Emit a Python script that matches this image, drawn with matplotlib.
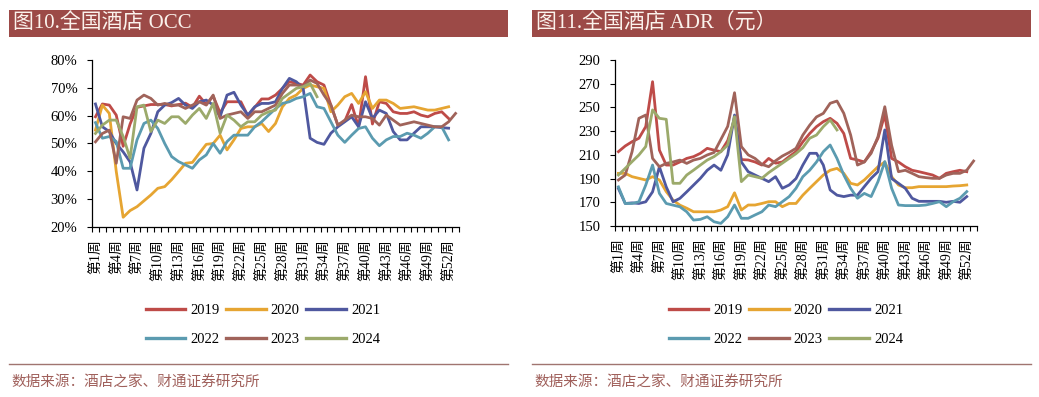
import matplotlib
matplotlib.use('Agg')
import matplotlib.pyplot as plt
import numpy as np
from matplotlib.patches import Rectangle
from matplotlib.lines import Line2D

plt.rcParams['font.family'] = ['Liberation Serif', 'Noto Sans CJK SC']

weeks = [f'第{i}周' for i in range(1, 54)]
label_weeks = list(range(1, 53, 3))
years = ['2019', '2020', '2021', '2022', '2023', '2024']
colors = ['#BE4B48', '#E6A532', '#4F589F', '#5B9BB0', '#A0635A', '#9CAA6B']

# 全国酒店 OCC (%)
occ_2019 = [59.6, 64.2, 63.8, 60.2, 49, 57, 63, 63.5, 64, 64, 64, 63.5, 64, 64.5, 63, 67, 64, 67, 61, 65,
            65, 65, 60, 63, 66, 66, 67.4, 69.8, 72.2, 71.6, 71, 74.6, 72.2, 71, 63.8, 56.6, 58, 64, 56, 74,
            57, 65, 64.4, 61.4, 60.8, 60.8, 61.4, 60.2, 59.6, 60.8, 61.4, 59]
occ_2020 = [54.8, 63.8, 60.8, 40, 23.5, 25.9, 27.3, 29.4, 31.5, 33.9, 34.5, 37, 39.9, 42.9, 43.2, 46.5, 49.7, 50, 53, 47.7,
            51.3, 55.4, 56, 56, 57.2, 54.3, 57.2, 63.2, 66.2, 67.4, 69.8, 71, 70.4, 69.8, 61.4, 63.8, 66.8, 68, 64.4, 68.6,
            62.6, 65.6, 65.6, 64.4, 62.6, 62.9, 63.2, 62.6, 62, 62, 62.6, 63.2]
occ_2021 = [64.2, 56, 54.3, 50, 47, 43.4, 33.3, 48.3, 53.6, 61.4, 63.8, 64.7, 66.2, 63.8, 62.6, 65, 65.6, 63.8, 59.6, 67.4,
            68.4, 63.8, 60.2, 63.2, 64.4, 64.4, 65, 69.8, 73.4, 72.2, 69.8, 51.9, 50.4, 49.7, 53.7, 56, 57.8, 59.6, 56, 65,
            59, 62, 60.8, 54.3, 51.3, 51.3, 53.7, 56, 56, 56, 55.7, 55.5]
occ_2022 = [57.5, 51.9, 52.5, 50.7, 41.1, 41.1, 51.3, 57.2, 58.4, 55.4, 50, 45.3, 43.5, 42.3, 41.1, 44.1, 45.9, 50, 46.5, 50.7,
            53, 53, 53, 56, 57.8, 60.2, 62.5, 64.4, 65, 66.2, 66.8, 68, 63.2, 62.6, 57.8, 53, 50.4, 53, 55.4, 56,
            51.9, 49.2, 51.3, 52.5, 52.5, 53.7, 53, 51.9, 53.7, 56, 56, 51.3]
occ_2023 = [50.6, 53.6, 54.8, 42.9, 59.6, 59, 65.6, 67.4, 66.2, 63.8, 64.4, 63.8, 63.8, 62.6, 63.8, 65, 63.8, 67.4, 59, 60.2,
            60.8, 61.4, 59, 61.4, 61.4, 62.6, 63.8, 68, 71, 71, 70.5, 72.8, 71.6, 67.4, 63.8, 56.6, 58.4, 60.2, 59.6, 59.6,
            59, 56.6, 60.2, 58.4, 56.6, 57.2, 57.8, 57.2, 56.6, 56, 56, 57.8, 60.8]
occ_2024 = [53.6, 56.6, 58.4, 58.4, 52.5, 44.7, 63.2, 63.8, 54.3, 58.4, 57.2, 59.6, 59.6, 57.2, 60.2, 62.6, 59, 64.4, 53.7, 60.2,
            58.4, 56, 57.8, 57.8, 60.2, 61.4, 62, 66.2, 68, 69.8, 70.4, 71.6, 66.8]

# 全国酒店 ADR (元)
adr_2019 = [212.7, 217.5, 221.1, 224, 233.8, 271.7, 214, 201.4, 201.4, 204, 207, 208.5, 211.3, 215.5, 214, 212.7, 222, 240, 206, 205.7,
            204, 201.4, 207, 203, 204, 208.5, 212.7, 221, 228, 233.8, 238, 240.8, 236.6, 228, 207, 205.7, 204, 212.7, 224, 244,
            207, 204, 200, 197, 195.8, 194.4, 193, 190.2, 194.4, 195.8, 197, 195.8]
adr_2020 = [194.4, 194.4, 191.6, 190.2, 188.8, 191.6, 188.8, 179, 171.8, 167.6, 165, 162, 162, 162, 162, 163.5, 166.3, 178, 163.5, 167.7,
            167.7, 169, 170.5, 170.5, 166.3, 169, 169, 176, 181.8, 187.4, 193, 197, 198.6, 194.4, 186, 184.6, 188.8, 194.4, 200, 204,
            191.6, 184.6, 182.3, 182.3, 183.2, 183.2, 183.2, 183.2, 183.2, 183.7, 184, 184.6]
adr_2021 = [181.6, 169, 169.5, 169, 170.4, 178.8, 199.9, 183, 170.4, 173.3, 178.8, 184.5, 190.2, 197, 201.4, 197, 210, 243.6, 204, 195.8,
            193, 190.2, 187.4, 191.6, 181.8, 184.6, 190, 201.4, 211.3, 211.3, 201.4, 180.4, 176, 174.8, 176, 176, 183.2, 190.2, 195.8, 231,
            190, 186, 181.8, 173.4, 170.8, 170.8, 170.8, 170.8, 170, 170.8, 170, 174.8]
adr_2022 = [183, 169, 169, 170.4, 184.5, 201.4, 177.5, 169, 167.6, 166.2, 162, 155, 155.6, 157.8, 153.6, 152.2, 157.8, 167.7, 156.5, 156.5,
            159.3, 162, 167.7, 166.3, 170.5, 174.8, 181.8, 191.6, 197, 204, 212.7, 218.3, 207, 193, 181.8, 173.4, 177.5, 174.8, 187.4, 204.3,
            181.8, 167.7, 167.2, 167.2, 167.2, 167.7, 169, 170.5, 166.3, 170.5, 173.4, 179]
adr_2023 = [188.8, 193, 212.7, 240.8, 243.6, 207, 200, 202.8, 204, 205.6, 202.8, 205.6, 207, 209.9, 212, 223, 234, 262.4, 217, 210,
            207, 202, 200, 205, 209, 212, 215.5, 226.7, 235, 242, 245, 253.5, 255.4, 245, 226.7, 201.4, 204, 211.3, 225.3, 250.6,
            218, 195.8, 197, 194.4, 191.6, 190.8, 190.2, 190.2, 193, 194.4, 194.4, 197, 204.8]
adr_2024 = [193, 198.6, 204.3, 209.9, 217, 247.9, 240.8, 240, 186, 186, 193, 197.1, 201.4, 205.6, 208.5, 212.7, 218.3, 242.2, 187.4, 193,
            191.6, 190.2, 195, 199, 203, 207, 211, 216, 224, 226.7, 233.8, 239.4, 231]

W, H = 1039, 397
fig = plt.figure(figsize=(W / 100, H / 100), dpi=100)
fig.patch.set_facecolor('white')

bar_color = '#9C4A47'
src_color = '#A0605B'


def px_rect(x0, y0, x1, y1):
    # pixel box (top-left origin) -> figure fraction rect
    return [x0 / W, 1 - y1 / H, (x1 - x0) / W, (y1 - y0) / H]


def draw_panel(rect, series, ylim, yticks, ylabels):
    ax = fig.add_axes(rect)
    lines = []
    for vals, c, lab in zip(series, colors, years):
        ln, = ax.plot(np.arange(len(vals)), vals, color=c, lw=2.0, label=lab)
        lines.append(ln)
    ax.set_xlim(-0.5, len(weeks) - 0.5)
    ax.set_ylim(*ylim)
    ax.set_yticks(yticks)
    ax.set_yticklabels(ylabels, fontsize=10.5)
    ax.set_xticks([w - 1 for w in label_weeks])
    ax.set_xticklabels([weeks[w - 1] for w in label_weeks], rotation=90, fontsize=10,
                       va='top', ha='center')
    ax.set_xticks(np.arange(-0.5, len(weeks), 1), minor=True)
    ax.tick_params(axis='x', which='major', length=0, pad=9)
    ax.tick_params(axis='x', which='minor', length=3.5, width=0.8, direction='out')
    ax.tick_params(axis='y', length=3.5, width=0.8, direction='out', pad=7)
    for s in ['top', 'right']:
        ax.spines[s].set_visible(False)
    for s in ['left', 'bottom']:
        ax.spines[s].set_linewidth(0.9)
        ax.spines[s].set_color('black')
    return ax, lines


def draw_frame(x0, x1, title, legend_cx, lines):
    fig.patches.append(Rectangle((x0 / W, 1 - 37 / H), (x1 - x0) / W, 27 / H,
                                 transform=fig.transFigure, facecolor=bar_color,
                                 edgecolor='none', zorder=0))
    fig.text((x0 + 4) / W, 1 - 24 / H, title, fontsize=15, color='#FBF2EC', va='center', ha='left')
    fig.lines.append(Line2D([x0 / W, x1 / W], [1 - 364 / H, 1 - 364 / H], transform=fig.transFigure,
                            color='#A07570', lw=1.0))
    fig.text((x0 + 2) / W, 1 - 383 / H, '数据来源：酒店之家、财通证券研究所', fontsize=10.5,
             color=src_color, va='center', ha='left')
    order = [0, 3, 1, 4, 2, 5]
    leg = fig.legend([lines[i] for i in order], [years[i] for i in order], ncol=3, loc='center',
                     bbox_to_anchor=(legend_cx / W, 1 - 325 / H), frameon=False, fontsize=10.5,
                     handlelength=2.7, handletextpad=0.35, columnspacing=0.45, labelspacing=1.1)
    for h in leg.legend_handles:
        h.set_linewidth(2.4)


ax1, l1 = draw_panel(px_rect(92, 60, 459, 227),
                     [occ_2019, occ_2020, occ_2021, occ_2022, occ_2023, occ_2024],
                     (20, 80), list(range(20, 81, 10)), [f'{v}%' for v in range(20, 81, 10)])
ax2, l2 = draw_panel(px_rect(615, 60, 977, 226),
                     [adr_2019, adr_2020, adr_2021, adr_2022, adr_2023, adr_2024],
                     (150, 290), list(range(150, 291, 20)), [str(v) for v in range(150, 291, 20)])

draw_frame(9, 508, '图10.全国酒店 OCC', 263, l1)
draw_frame(532, 1031, '图11.全国酒店 ADR（元）', 786, l2)

fig.savefig('out.png', dpi=100)
